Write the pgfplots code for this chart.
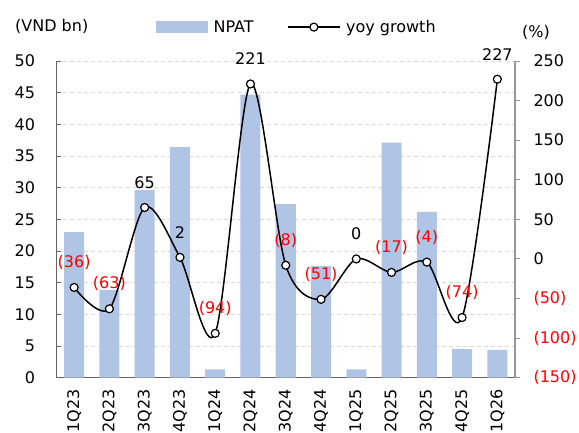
\documentclass[border=0pt]{standalone}
\usepackage{pgfplots}
\pgfplotsset{compat=1.18}
\usepackage{fontspec}
\setmainfont{DejaVu Sans}
\definecolor{npat}{RGB}{176,196,230}
\definecolor{gridc}{RGB}{217,217,217}
\definecolor{axl}{RGB}{100,100,100}
\definecolor{axr}{RGB}{150,150,150}
\newcommand{\cf}{\fontsize{16}{19}\selectfont}
\pgfplotsset{
  every axis/.append style={font=\cf},
  tick label style={font=\cf},
  yoylegend/.style={legend image code/.code={\draw[mark repeat=2,mark phase=2,##1] plot coordinates {(0pt,0pt) (25.5pt,0pt) (51pt,0pt)};}},
}
\begin{document}
\begin{tikzpicture}[font=\cf]
\useasboundingbox (-56.5pt,-54.3pt) rectangle (522.5pt,377.7pt);
\begin{axis}[
  at={(0pt,0pt)}, anchor=south west,
  scale only axis, width=458.5pt, height=316.7pt,
  xmin=-0.5, xmax=12.5, ymin=0, ymax=50,
  ytick={0,5,...,50},
  xtick={0,...,12},
  xticklabels={1Q23,2Q23,3Q23,4Q23,1Q24,2Q24,3Q24,4Q24,1Q25,2Q25,3Q25,4Q25,1Q26},
  xticklabel style={yshift=-8pt, rotate=90, anchor=east},
  yticklabel style={xshift=-18pt},
  x tick style={draw=none},
  y tick style={axl, line width=1pt},
  tick align=inside,
  major tick length=5pt,
  ymajorgrids,
  grid style={gridc, dash pattern=on 4pt off 3pt, line width=0.9pt},
  axis x line*=bottom, axis y line*=left,
  axis line style={axl, line width=1.2pt},
  /pgf/number format/assume math mode=true,
  bar width=20pt,
]
\addplot[ybar, fill=npat, draw=none] coordinates {
(0,23.0) (1,13.85) (2,29.6) (3,36.4) (4,1.3) (5,44.7) (6,27.4)
(7,17.6) (8,1.3) (9,37.1) (10,26.2) (11,4.5) (12,4.4)};
\end{axis}
\begin{axis}[
  at={(0pt,0pt)}, anchor=south west,
  scale only axis, width=458.5pt, height=316.7pt,
  xmin=-0.5, xmax=12.5, ymin=-150, ymax=250,
  ytick={-150,-100,...,250},
  yticklabels={{\textcolor{red}{(150)}},{\textcolor{red}{(100)}},{\textcolor{red}{(50)}},0,50,100,150,200,250},
  yticklabel style={xshift=10pt},
  axis y line*=right, axis x line=none,
  y tick style={axr, line width=1pt},
  tick align=outside,
  major tick length=5pt,
  axis line style={axr, line width=1.2pt},
  clip=false,
  legend style={draw=none, fill=none, legend columns=2, inner sep=0pt,
    at={(0.217,1.107)}, anchor=west,
    font=\cf, /tikz/every odd column/.append style={column sep=4pt},
    /tikz/every even column/.append style={column sep=32pt}},
]
\addlegendimage{legend image code/.code={\fill[npat] (0pt,-5.5pt) rectangle (51pt,5.5pt);}}
\addlegendentry{NPAT}
\addplot[black, line width=1.5pt, smooth, mark=*, mark size=4pt,
  mark options={fill=white, draw=black, line width=1.2pt}, yoylegend]
coordinates {(0,-36) (1,-63) (2,65) (3,2) (4,-94) (5,221) (6,-8) (7,-51) (8,0) (9,-17) (10,-4) (11,-74) (12,227)};
\addlegendentry{yoy growth}
\addplot[draw=none, mark=none, forget plot, nodes near coords, point meta=explicit symbolic,
  every node near coord/.style={anchor=center, yshift=25pt, text=black, font=\cf}]
coordinates {(2,65) [65] (3,2) [2] (5,221) [221] (8,0) [0] (12,227) [227]};
\addplot[draw=none, mark=none, forget plot, nodes near coords, point meta=explicit symbolic,
  every node near coord/.style={anchor=center, yshift=25pt, text=red, font=\cf}]
coordinates {(0,-36) [{(36)}] (1,-63) [{(63)}] (4,-94) [{(94)}] (6,-8) [{(8)}] (7,-51) [{(51)}] (9,-17) [{(17)}] (10,-4) [{(4)}] (11,-74) [{(74)}]};
\end{axis}
\node[anchor=west, inner sep=0] at (-41.5pt,351pt) {(VND bn)};
\node[anchor=west, inner sep=0] at (465.5pt,345.7pt) {(\%)};
\end{tikzpicture}
\end{document}
